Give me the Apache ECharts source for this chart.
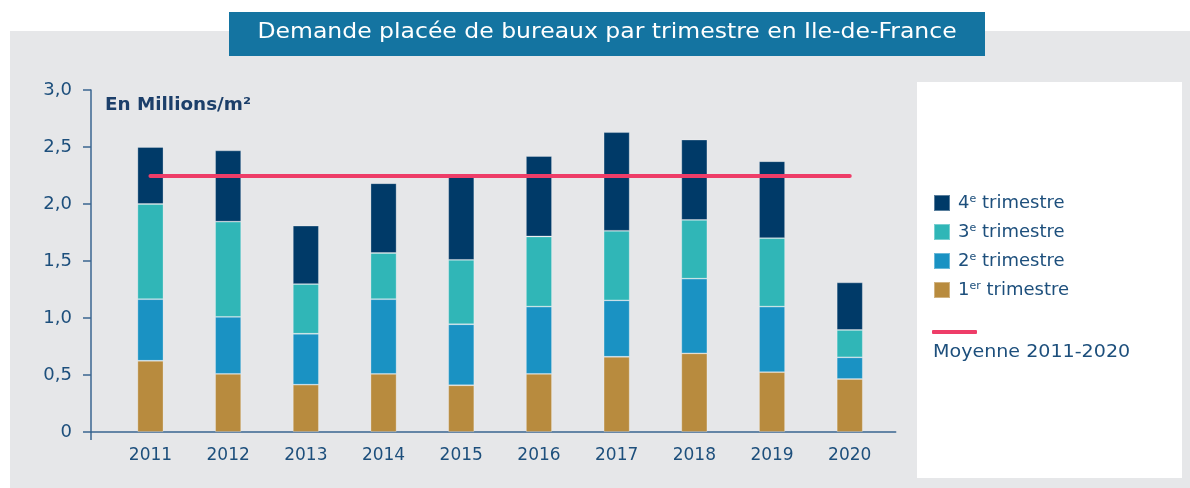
<!DOCTYPE html>
<html>
<head>
<meta charset="utf-8">
<script src="https://cdn.jsdelivr.net/npm/echarts@6/dist/echarts.min.js"></script>
<style>
  html, body { margin: 0; padding: 0; background: #ffffff; }
  #main { width: 1190px; height: 488px; }
</style>
</head>
<body>
<div id="main"></div>
<script>
// années
var years = ['2011', '2012', '2013', '2014', '2015', '2016', '2017', '2018', '2019', '2020'];
// demande placée par trimestre (millions de m²)
var t1 = [0.625, 0.51, 0.415, 0.51, 0.41, 0.51, 0.66, 0.69, 0.525, 0.465];
var t2 = [0.54, 0.50, 0.447, 0.655, 0.535, 0.59, 0.495, 0.655, 0.575, 0.19];
var t3 = [0.835, 0.835, 0.436, 0.405, 0.565, 0.615, 0.61, 0.515, 0.60, 0.24];
var t4 = [0.50, 0.625, 0.512, 0.612, 0.73, 0.705, 0.865, 0.705, 0.675, 0.417];
// moyenne 2011-2020
var moyenne = 2.245;

var font = '"DejaVu Sans", sans-serif';
var bleuTexte = '#1d4f7c';
var axe = '#3a6690';

function barre(nom, vals, couleur) {
  return {
    name: nom,
    type: 'bar',
    stack: 'total',
    barWidth: 26,
    data: vals,
    itemStyle: { color: couleur, borderColor: 'rgba(255,255,255,0.35)', borderWidth: 0.8 }
  };
}

var chart = echarts.init(document.getElementById('main'));
chart.setOption({
  animation: false,
  textStyle: { fontFamily: font },
  graphic: [
    // fond gris
    { type: 'rect', z: -10, shape: { x: 10, y: 31, width: 1180, height: 457 }, style: { fill: '#e6e7e9' } },
    // bandeau titre
    { type: 'rect', z: 10, shape: { x: 229, y: 12, width: 756, height: 44 }, style: { fill: '#1474a1' } },
    { type: 'text', z: 11, x: 607, y: 33, scaleX: 1.12, style: {
        text: 'Demande placée de bureaux par trimestre en Ile-de-France',
        fill: '#ffffff', font: '21px ' + font, align: 'center', verticalAlign: 'middle' } },
    // cadre légende
    { type: 'rect', z: -5, shape: { x: 917, y: 82, width: 265, height: 396 }, style: { fill: '#ffffff' } },
    { type: 'text', z: 11, x: 105, y: 106, scaleX: 1.08, style: {
        text: 'En Millions/m²', fill: '#1c3f6a', font: 'bold 17px ' + font, verticalAlign: 'middle' } },
    { type: 'text', z: 11, x: 933, y: 352, scaleX: 1.06, style: {
        text: 'Moyenne 2011-2020', fill: bleuTexte, font: '18px ' + font, verticalAlign: 'middle' } }
  ],
  legend: [
    {
      data: ['4e trimestre', '3e trimestre', '2e trimestre', '1er trimestre'],
      orient: 'vertical',
      left: 933,
      top: 194,
      padding: 0,
      itemWidth: 16,
      itemHeight: 16,
      itemGap: 11,
      icon: 'rect',
      selectedMode: false,
      formatter: function (n) {
        var m = n.match(/^(\d)(er|e) (.*)$/);
        return '{t|' + m[1] + '}{sup|' + m[2] + '}{t| ' + m[3] + '}';
      },
      textStyle: {
        color: bleuTexte, fontSize: 18, padding: [0, 0, 0, 3],
        rich: {
          t: { fontSize: 18, lineHeight: 18, color: bleuTexte, fontFamily: font },
          sup: { fontSize: 11, lineHeight: 18, verticalAlign: 'top', color: bleuTexte, fontFamily: font }
        }
      }
    },
    {
      data: [{ name: 'Moyenne 2011-2020', icon: 'roundRect' }],
      left: 932,
      top: 330,
      padding: 0,
      itemWidth: 45,
      itemHeight: 4,
      selectedMode: false,
      formatter: function () { return ''; }
    }
  ],
  grid: [
    { left: 111.6, width: 777, top: 90, bottom: 56 },
    { left: 91, right: 294.3, top: 90, bottom: 56 }
  ],
  xAxis: [
    {
      type: 'category',
      data: years,
      gridIndex: 0,
      axisLine: { show: false },
      axisTick: { show: false },
      axisLabel: { color: bleuTexte, fontSize: 17, margin: 15 }
    },
    {
      // ligne de l'axe horizontal, prolongée jusqu'à l'axe vertical
      type: 'value',
      gridIndex: 1,
      min: 0,
      max: 1,
      axisLine: { show: true, onZero: false, lineStyle: { color: axe, width: 1.5 } },
      axisTick: { show: true, customValues: [0], length: 8, lineStyle: { color: axe, width: 1.5 } },
      axisLabel: { show: false },
      splitLine: { show: false }
    }
  ],
  yAxis: [
    {
      type: 'value',
      gridIndex: 0,
      min: 0,
      max: 3,
      interval: 0.5,
      offset: 20.6,
      axisLine: { show: true, lineStyle: { color: axe, width: 1.5 } },
      axisTick: { show: true, length: 8, lineStyle: { color: axe, width: 1.5 } },
      axisLabel: {
        color: bleuTexte, fontSize: 18, margin: 19,
        formatter: function (v) { return v === 0 ? '0' : v.toFixed(1).replace('.', ','); }
      },
      splitLine: { show: false }
    },
    { type: 'value', gridIndex: 1, show: false, min: 0, max: 3 }
  ],
  series: [
    barre('1er trimestre', t1, '#b88b3e'),
    barre('2e trimestre', t2, '#1a92c3'),
    barre('3e trimestre', t3, '#30b6b7'),
    barre('4e trimestre', t4, '#003a68'),
    {
      name: 'Moyenne 2011-2020',
      type: 'line',
      symbol: 'none',
      color: '#ee3d68',
      lineStyle: { width: 4, color: '#ee3d68', cap: 'round' },
      data: years.map(function () { return moyenne; }),
      z: 5
    }
  ]
});
</script>
</body>
</html>
